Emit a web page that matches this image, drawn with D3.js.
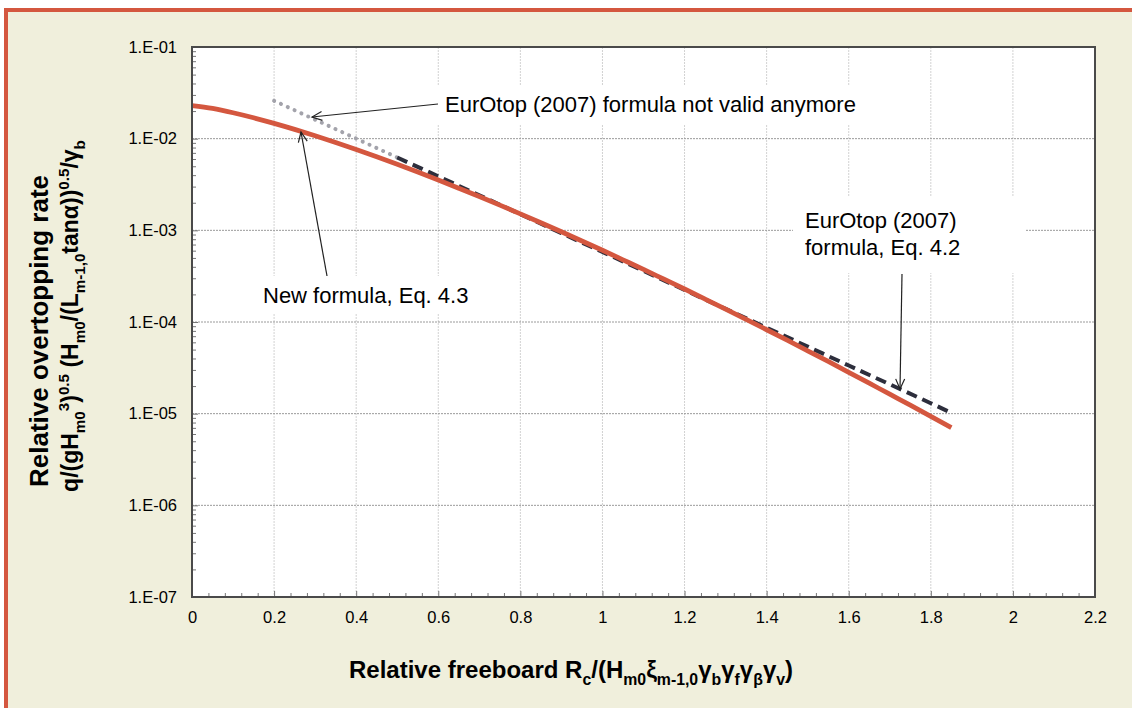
<!DOCTYPE html>
<html>
<head>
<meta charset="utf-8">
<script src="https://cdn.jsdelivr.net/npm/d3@7"></script>
<style>
  html, body { margin: 0; padding: 0; background: #ffffff; }
  svg { display: block; }
  text { font-family: "Liberation Sans", Arial, sans-serif; fill: #000; }
</style>
</head>
<body>
<svg id="chart" width="1132" height="708"></svg>
<script>
// ---------------- data ----------------
const xTickValues = [0, 0.2, 0.4, 0.6, 0.8, 1, 1.2, 1.4, 1.6, 1.8, 2, 2.2];
const xTickLabels = ["0", "0.2", "0.4", "0.6", "0.8", "1", "1.2", "1.4", "1.6", "1.8", "2", "2.2"];
const yTickValues = [1e-7, 1e-6, 1e-5, 1e-4, 1e-3, 1e-2, 1e-1];
const yTickLabels = ["1.E-07", "1.E-06", "1.E-05", "1.E-04", "1.E-03", "1.E-02", "1.E-01"];

// New formula, Eq. 4.3 (red solid)
const newX = [0, 0.05, 0.1, 0.15, 0.2, 0.25, 0.3, 0.35, 0.4, 0.45, 0.5, 0.55, 0.6, 0.65, 0.7, 0.75, 0.8, 0.85, 0.9, 0.95,
              1.0, 1.05, 1.1, 1.15, 1.2, 1.25, 1.3, 1.35, 1.4, 1.45, 1.5, 1.55, 1.6, 1.65, 1.7, 1.75, 1.8, 1.85];
const newY = [0.0230, 0.02136, 0.01917, 0.01689, 0.01468, 0.01262, 0.01075, 0.00908, 0.00762, 0.00634,
              0.00525, 0.00432, 0.00354, 0.00288, 0.002334, 0.001883, 0.001512, 0.001210, 0.000964, 0.000766,
              0.000606, 0.000477, 0.000375, 0.000293, 0.000229, 0.000178, 0.000138, 0.0001067, 8.23e-5, 6.33e-5,
              4.85e-5, 3.71e-5, 2.83e-5, 2.15e-5, 1.63e-5, 1.24e-5, 9.34e-6, 7.06e-6];

// EurOtop (2007) formula, Eq. 4.2 (dark dashed)
const oldX = [0.5, 0.6, 0.7, 0.8, 0.9, 1.0, 1.1, 1.2, 1.3, 1.4, 1.5, 1.6, 1.7, 1.8, 1.85];
const oldY = [6.23e-3, 3.88e-3, 2.41e-3, 1.50e-3, 9.32e-4, 5.80e-4, 3.61e-4, 2.24e-4, 1.39e-4, 8.67e-5,
              5.39e-5, 3.35e-5, 2.09e-5, 1.30e-5, 1.02e-5];

// EurOtop (2007) formula, not valid range (grey dotted)
const invalidX = [0.2, 0.3, 0.4, 0.5];
const invalidY = [0.0259, 0.01611, 0.01002, 6.23e-3];

// ---------------- drawing ----------------
const svg = d3.select("#chart");
const W = 1132, H = 708;
const plot = { left: 192, right: 1095, top: 47, bottom: 597 };

const cream = "#f0efdc";
const red = "#d4573f";

// outer frame
svg.append("rect").attr("x", 4).attr("y", 8).attr("width", W - 4).attr("height", H - 8).attr("fill", red);
svg.append("rect").attr("x", 8).attr("y", 12).attr("width", W - 8).attr("height", H - 12).attr("fill", cream);

const x = d3.scaleLinear().domain([0, 2.2]).range([plot.left, plot.right]);
const y = d3.scaleLog().domain([1e-7, 1e-1]).range([plot.bottom, plot.top]);

// plot area
svg.append("rect").attr("x", plot.left).attr("y", plot.top)
  .attr("width", plot.right - plot.left).attr("height", plot.bottom - plot.top).attr("fill", "#ffffff");

// grid
const grid = svg.append("g");
grid.selectAll("line.vg").data(xTickValues.slice(1, -1)).join("line")
  .attr("x1", d => x(d)).attr("x2", d => x(d)).attr("y1", plot.top).attr("y2", plot.bottom)
  .attr("stroke", "#d2d2d2").attr("stroke-width", 1).attr("stroke-dasharray", "2,1");
grid.selectAll("line.hg").data(yTickValues.slice(1, -1)).join("line")
  .attr("x1", plot.left).attr("x2", plot.right).attr("y1", d => y(d)).attr("y2", d => y(d))
  .attr("stroke", "#9a9a9a").attr("stroke-width", 1).attr("stroke-dasharray", "2,1");

// white label boxes (cover gridlines)
const boxes = [
  { x: 428, y: 86, w: 445, h: 38 },
  { x: 255, y: 276, w: 225, h: 38 },
  { x: 793, y: 196, w: 233, h: 77 }
];
svg.append("g").selectAll("rect").data(boxes).join("rect")
  .attr("x", d => d.x).attr("y", d => d.y).attr("width", d => d.w).attr("height", d => d.h)
  .attr("fill", "#ffffff");

// curves
const line = d3.line().x(d => x(d[0])).y(d => y(d[1])).curve(d3.curveMonotoneX);
svg.append("path").datum(invalidX.map((v, i) => [v, invalidY[i]]))
  .attr("d", line).attr("fill", "none").attr("stroke", "#a3a3ab").attr("stroke-width", 4)
  .attr("stroke-linecap", "round").attr("stroke-dasharray", "0.1,7.4");
svg.append("path").datum(oldX.map((v, i) => [v, oldY[i]]))
  .attr("d", line).attr("fill", "none").attr("stroke", "#2d2e3c").attr("stroke-width", 4)
  .attr("stroke-dasharray", "11,6");
svg.append("path").datum(newX.map((v, i) => [v, newY[i]]))
  .attr("d", line).attr("fill", "none").attr("stroke", red).attr("stroke-width", 4.8)
  .attr("stroke-linejoin", "round");

// axes
const axisColor = "#4a4a4a";
const minorY = [];
for (let e = -7; e < -1; e++) for (let m = 2; m <= 9; m++) minorY.push(m * Math.pow(10, e));
const minorX = d3.range(0, 111).map(i => i * 0.02).filter((d, i) => i % 2 === 0 && i % 10 !== 0).map(d => +d.toFixed(2));

const gyMinor = svg.append("g").attr("transform", `translate(${plot.left},0)`)
  .call(d3.axisLeft(y).tickValues(minorY).tickFormat("").tickSizeInner(-4).tickSizeOuter(0));
const gy = svg.append("g").attr("transform", `translate(${plot.left},0)`)
  .call(d3.axisLeft(y).tickValues(yTickValues).tickFormat((d, i) => yTickLabels[i])
        .tickSizeInner(-6).tickSizeOuter(0).tickPadding(15));
const gxMinor = svg.append("g").attr("transform", `translate(0,${plot.bottom})`)
  .call(d3.axisBottom(x).tickValues(minorX).tickFormat("").tickSizeInner(-4).tickSizeOuter(0));
const gx = svg.append("g").attr("transform", `translate(0,${plot.bottom})`)
  .call(d3.axisBottom(x).tickValues(xTickValues).tickFormat((d, i) => xTickLabels[i])
        .tickSizeInner(-6).tickSizeOuter(0).tickPadding(14));

[gyMinor, gy, gxMinor, gx].forEach(g => {
  g.select(".domain").remove();
  g.selectAll(".tick line").attr("stroke", "#777").attr("stroke-width", 1);
});
gy.selectAll(".tick text").attr("font-size", 16.5).attr("fill", "#000")
  .attr("font-family", "Liberation Sans, Arial, sans-serif");
gx.selectAll(".tick text").attr("font-size", 16.5).attr("fill", "#000")
  .attr("font-family", "Liberation Sans, Arial, sans-serif");

// plot border
svg.append("rect").attr("x", plot.left).attr("y", plot.top)
  .attr("width", plot.right - plot.left).attr("height", plot.bottom - plot.top)
  .attr("fill", "none").attr("stroke", axisColor).attr("stroke-width", 2);

// arrows
function arrow(x1, y1, x2, y2) {
  const g = svg.append("g");
  g.append("line").attr("x1", x1).attr("y1", y1).attr("x2", x2).attr("y2", y2)
    .attr("stroke", "#222").attr("stroke-width", 1.2);
  const a = Math.atan2(y2 - y1, x2 - x1);
  const L = 11, sp = 0.42;
  const p1 = [x2 - L * Math.cos(a - sp), y2 - L * Math.sin(a - sp)];
  const p2 = [x2 - L * Math.cos(a + sp), y2 - L * Math.sin(a + sp)];
  g.append("path").attr("d", `M${p1[0]},${p1[1]}L${x2},${y2}L${p2[0]},${p2[1]}`)
    .attr("fill", "none").attr("stroke", "#222").attr("stroke-width", 1.2);
}
arrow(438, 104, 312, 117);
arrow(327, 276, 301, 132);
arrow(902, 274, 900, 389);

// annotation texts
const ann = svg.append("g").attr("font-size", 22);
ann.append("text").attr("x", 445).attr("y", 112).text("EurOtop (2007) formula not valid anymore");
ann.append("text").attr("x", 263).attr("y", 303).text("New formula, Eq. 4.3");
ann.append("text").attr("x", 805).attr("y", 228).text("EurOtop (2007)");
ann.append("text").attr("x", 805).attr("y", 255).text("formula, Eq. 4.2");

// axis titles
function rich(textSel, parts, baseSize) {
  let shift = 0;
  parts.forEach(([s, m]) => {
    const target = m === "sub" ? 0.3 * baseSize : m === "sup" ? -0.38 * baseSize : 0;
    const t = textSel.append("tspan").text(s).attr("dy", target - shift);
    if (m !== "n") t.attr("font-size", baseSize * 0.66);
    shift = target;
  });
}

const xt = svg.append("text").attr("x", 349).attr("y", 678).attr("font-size", 24).attr("font-weight", "bold");
rich(xt, [["Relative freeboard R", "n"], ["c", "sub"], ["/(H", "n"], ["m0", "sub"], ["ξ", "n"], ["m-1,0", "sub"],
          ["γ", "n"], ["b", "sub"], ["γ", "n"], ["f", "sub"], ["γ", "n"], ["β", "sub"], ["γ", "n"], ["v", "sub"], [")", "n"]], 24);

svg.append("text").attr("transform", "translate(48,331) rotate(-90)")
  .attr("text-anchor", "middle").attr("font-size", 26).attr("font-weight", "bold")
  .text("Relative overtopping rate");
const yt2 = svg.append("text").attr("transform", "translate(78,316) rotate(-90)")
  .attr("text-anchor", "middle").attr("font-size", 23).attr("font-weight", "bold");
rich(yt2, [["q/(gH", "n"], ["m0", "sub"], ["3", "sup"], [")", "n"], ["0.5", "sup"], [" (H", "n"], ["m0", "sub"],
           ["/(L", "n"], ["m-1,0", "sub"], ["tanα))", "n"], ["0.5", "sup"], ["/γ", "n"], ["b", "sub"]], 23);
</script>
</body>
</html>
